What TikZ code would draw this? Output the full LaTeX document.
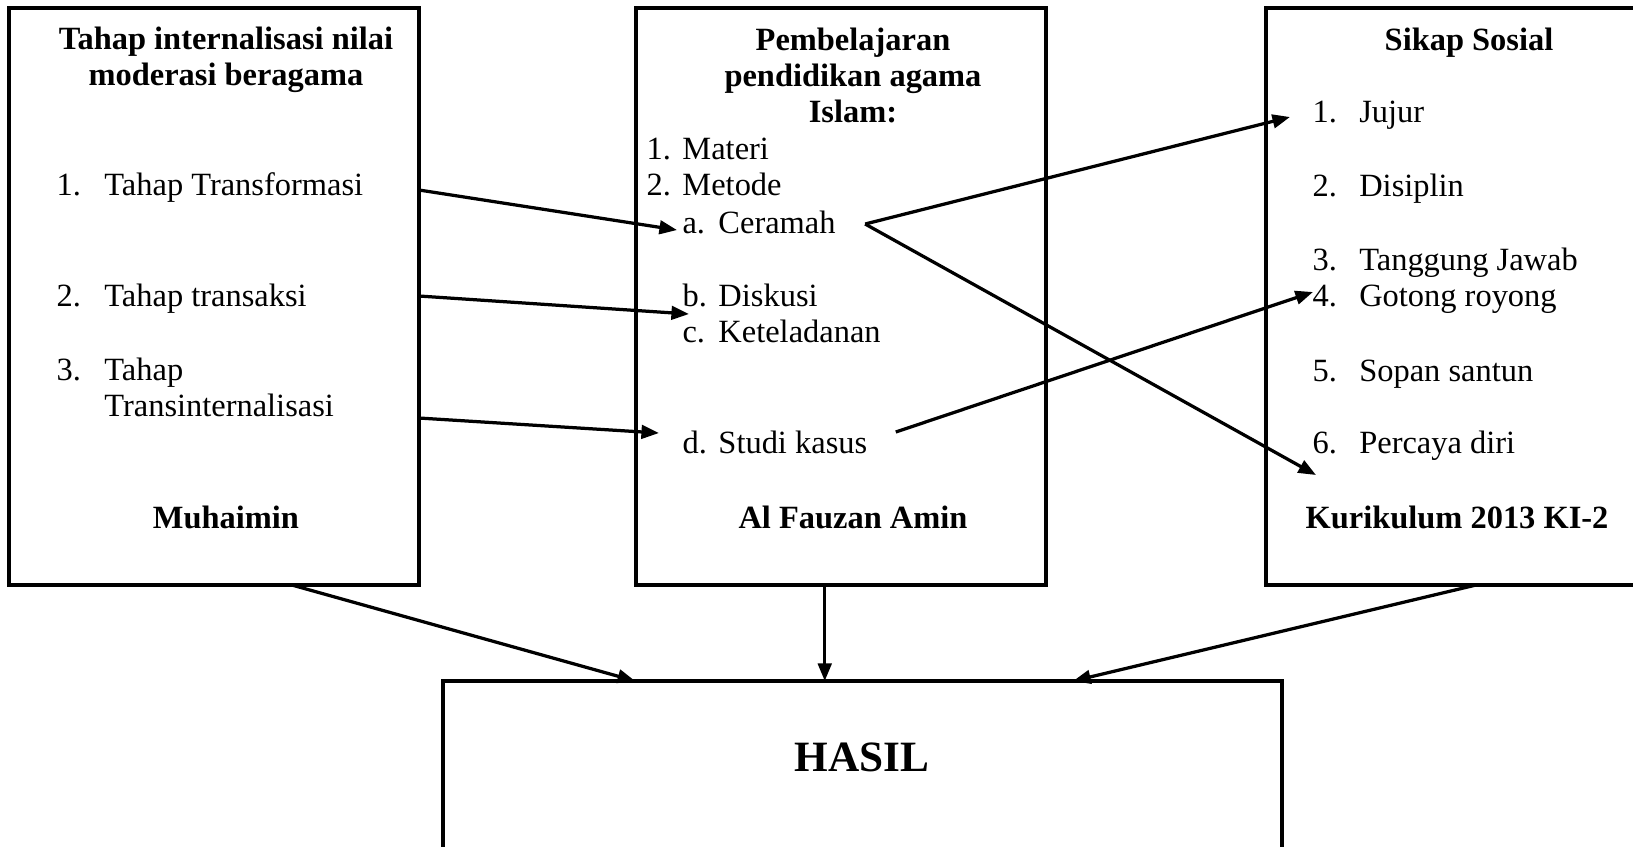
\documentclass[tikz,border=0pt]{standalone}
\usepackage{fontspec}
\setmainfont{Liberation Serif}
\usetikzlibrary{positioning}
\usetikzlibrary{arrows.meta,calc}
\newcommand{\nomor}[2]{\makebox[#1][l]{#2}}

\begin{document}
\begin{tikzpicture}[x=0.013cm,y=-0.013cm,kotak/.style={draw,line width=1.5pt,minimum height=7.501cm,inner sep=0pt,outer sep=0pt},judul/.style={font=\fontsize{12}{13.3}\selectfont\bfseries,anchor=base,inner sep=0pt},isi/.style={font=\fontsize{12}{13.3}\selectfont,anchor=base west,inner sep=0pt},panah/.style={line width=1.2pt,-{Triangle[length=6.5pt,width=5pt]}}]
        \useasboundingbox (0,0) rectangle (1633,846);
        % kotak
        \node[kotak,minimum width=5.33cm](kiri) at (214,296.5){};
        \node[kotak,minimum width=5.33cm](tengah) at (841,296.5){};
        \node[kotak,minimum width=5.2cm](kanan) at (1466,296.5){};
        \node[kotak,minimum width=10.907cm,minimum height=2.6cm](hasil) at (862.5,781){};
        % baris terakhir menentukan base
        \node[judul,align=center](jkiri) at (226,85){Tahap internalisasi nilai\\moderasi beragama};
        \node[isi](tf) at (56,195){\nomor{17.7pt}{1.}Tahap Transformasi};
        \node[isi](ts) at (56,306){\nomor{17.7pt}{2.}Tahap transaksi};
        \node[isi,align=left](ti) at (56,416){\nomor{17.7pt}{3.}Tahap\\\hspace*{17.7pt}Transinternalisasi};
        \node[judul](muh) at (226,528){Muhaimin};
        %
        \node[judul,align=center](jtengah) at (853,122){Pembelajaran\\pendidikan agama\\Islam:};
        \node[isi](mat) at (646,159){\nomor{13.3pt}{1.}Materi};
        \node[isi](met) at (646,195){\nomor{13.3pt}{2.}Metode};
        \node[isi](cer) at (682,233){\nomor{13.3pt}{a.}Ceramah};
        \node[isi](dis) at (682,306){\nomor{13.3pt}{b.}Diskusi};
        \node[isi](ket) at (682,342){\nomor{13.3pt}{c.}Keteladanan};
        \node[isi](stu) at (682,453){\nomor{13.3pt}{d.}Studi kasus};
        \node[judul](fauzan) at (853,528){Al Fauzan Amin};
        %
        \node[judul](jkanan) at (1469,50){Sikap Sosial};
        \node[isi](juj) at (1312,122){\nomor{17.3pt}{1.}Jujur};
        \node[isi](dsp) at (1312,196){\nomor{17.3pt}{2.}Disiplin};
        \node[isi](tgj) at (1312,270){\nomor{17.3pt}{3.}Tanggung Jawab};
        \node[isi](got) at (1312,306){\nomor{17.3pt}{4.}Gotong royong};
        \node[isi](sop) at (1312,381){\nomor{17.3pt}{5.}Sopan santun};
        \node[isi](per) at (1312,453){\nomor{17.3pt}{6.}Percaya diri};
        \node[judul](kur) at (1457,528){Kurikulum 2013 KI-2};
        %
        \node[judul,font=\fontsize{16}{18}\selectfont\bfseries](thasil) at (862,771){HASIL};
        %
        \coordinate (ce) at ($(cer.base east)+(29,-9)$);
        \coordinate (sk) at ($(stu.base east)+(28,-21)$);
        \coordinate (h1) at ($(hasil.north west)!0.229!(hasil.north east)$);
        \coordinate (h2) at ($(hasil.north west)!0.455!(hasil.north east)$);
        \coordinate (h3) at ($(hasil.north west)!0.751!(hasil.north east)$);
        %
        \draw[panah] ($(kiri.east |- tf.base)+(0,-5)$) -- ($(cer.base west)+(-5,-3)$);
        \draw[panah] ($(kiri.east |- ts.base)+(0,-10)$) -- ($(dis.base west)+(7,8)$);
        \draw[panah] ($(kiri.east |- ti.base)+(0,2)$) -- ($(stu.base west)+(-23,-20)$);
        \draw[panah] (ce) -- ($(juj.base west)+(-22,-5)$);
        \draw[panah] (ce) -- ($(per.base west)+(4,22)$);
        \draw[panah] (sk) -- ($(got.base west)+(1,-14)$);
        %
        \draw[panah] ($(kiri.south west)!0.69!(kiri.south east)$) -- (h1);
        \draw[panah] (tengah.south -| h2) -- (h2);
        \draw[panah] ($(kanan.south west)!0.525!(kanan.south east)$) -- (h3);
\end{tikzpicture}
\end{document}
